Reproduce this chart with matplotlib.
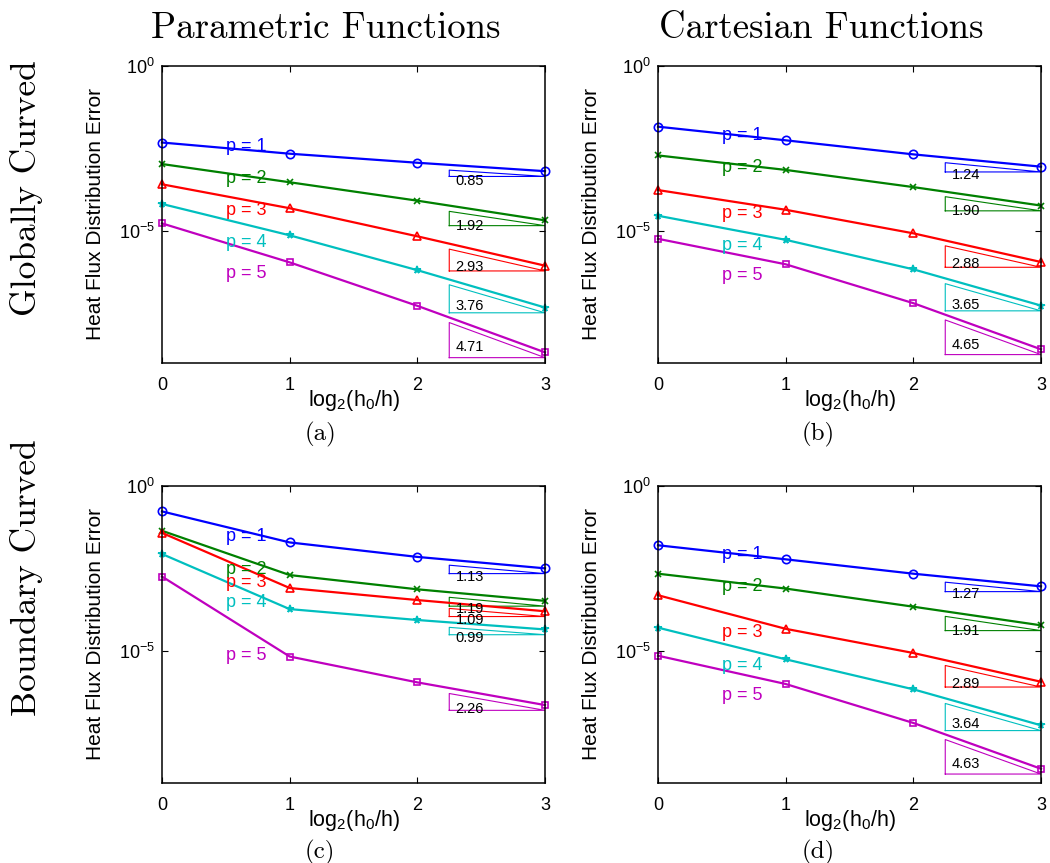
import numpy as np
import matplotlib
matplotlib.use("Agg")
from matplotlib import pyplot as plt
from matplotlib.ticker import NullLocator

plt.rcParams['font.family'] = ['Liberation Sans', 'DejaVu Sans']
plt.rcParams['mathtext.fontset'] = 'custom'
plt.rcParams['mathtext.rm'] = 'Liberation Sans'
plt.rcParams['mathtext.it'] = 'Liberation Sans:italic'

W, H = 1050, 863

x = [0, 1, 2, 3]
orders = [1, 2, 3, 4, 5]

# errors, one list per order p
err_a = [
    [4.8e-3, 2.2e-3, 1.17e-3, 6.5e-4],
    [1.07e-3, 3.0e-4, 8.3e-5, 2.1e-5],
    [2.6e-4, 4.9e-5, 6.9e-6, 8.9e-7],
    [6.6e-5, 7.4e-6, 6.5e-7, 4.8e-8],
    [1.7e-5, 1.12e-6, 5.4e-8, 2.1e-9],
]
err_b = [
    [1.45e-2, 5.6e-3, 2.1e-3, 8.9e-4],
    [1.95e-3, 7.1e-4, 2.14e-4, 5.9e-5],
    [1.74e-4, 4.4e-5, 8.5e-6, 1.15e-6],
    [2.9e-5, 5.4e-6, 6.9e-7, 5.5e-8],
    [5.8e-6, 9.8e-7, 6.5e-8, 2.6e-9],
]
err_c = [
    [1.7e-1, 1.95e-2, 7.1e-3, 3.2e-3],
    [4.4e-2, 2.0e-3, 7.4e-4, 3.3e-4],
    [3.8e-2, 8.1e-4, 3.5e-4, 1.6e-4],
    [8.7e-3, 1.86e-4, 8.7e-5, 4.5e-5],
    [1.8e-3, 6.8e-6, 1.12e-6, 2.3e-7],
]
err_d = [
    [1.6e-2, 6.0e-3, 2.2e-3, 9.1e-4],
    [2.2e-3, 7.8e-4, 2.2e-4, 6.0e-5],
    [4.9e-4, 4.7e-5, 8.7e-6, 1.17e-6],
    [5.1e-5, 5.6e-6, 6.9e-7, 5.6e-8],
    [7.2e-6, 1.0e-6, 6.6e-8, 2.7e-9],
]

rates_a = [0.85, 1.92, 2.93, 3.76, 4.71]
rates_b = [1.24, 1.90, 2.88, 3.65, 4.65]
rates_c = [1.13, 1.19, 1.09, 0.99, 2.26]
rates_d = [1.27, 1.91, 2.89, 3.64, 4.63]

# where the "p = k" labels sit (log10 of y)
lab_a = [-2.44, -3.40, -4.38, -5.34, -6.28]
lab_b = [-2.12, -3.07, -4.46, -5.45, -6.34]
lab_c = [-1.54, -2.52, -2.93, -3.54, -5.15]
lab_d = [-2.09, -3.05, -4.43, -5.43, -6.34]

colors = [(0, 0, 1), (0, 0.5, 0), (1, 0, 0), (0, 0.75, 0.75), (0.75, 0, 0.75)]
markers = ['o', 'x', '^', '*', 's']
msizes = [6, 4.5, 6, 5.5, 4.5]

fig = plt.figure(figsize=(W / 100, H / 100), dpi=100)


def add_ax(left, top, right, bottom):
    return fig.add_axes([left / W, 1 - bottom / H, (right - left) / W, (bottom - top) / H])


def draw(ax, errs, rates, labs):
    for i in range(5):
        c = colors[i]
        ax.plot(x, errs[i], color=c, lw=1.6, marker=markers[i], ms=msizes[i],
                mfc='none' if markers[i] in 'o^s' else c, mec=c, mew=1.2, clip_on=False)
        ax.text(0.5, 10 ** labs[i], f"p = {orders[i]}", color=c, fontsize=13,
                ha='left', va='center')
        # slope triangle
        bot = errs[i][-1] * 10 ** -0.16
        top = bot * 2 ** (0.75 * rates[i])
        ax.plot([2.25, 2.25, 3, 2.25], [bot, top, bot, bot], color=c, lw=0.8)
        ax.text(2.3, np.sqrt(top * bot) * 10 ** -0.22, f"{rates[i]:.2f}",
                fontsize=10.5, ha='left', va='center')
    ax.set_yscale('log')
    ax.set_xlim(0, 3)
    ax.set_ylim(1e-9, 1)
    ax.set_xticks([0, 1, 2, 3])
    ax.set_yticks([1e-5, 1])
    ax.yaxis.set_minor_locator(NullLocator())
    ax.tick_params(direction='in', top=True, right=True, labelsize=13, length=4, width=0.8)
    ax.tick_params(axis='x', pad=10)
    ax.tick_params(axis='y', pad=5)
    for s in ax.spines.values():
        s.set_linewidth(1.1)
    ax.set_ylabel("Heat Flux Distribution Error", fontsize=15)
    ax.yaxis.set_label_coords(-0.149, 0.5)
    ax.set_xlabel(r"log$_2$(h$_0$/h)", fontsize=15.5)
    ax.xaxis.set_label_coords(0.5, -0.125)
    ax.xaxis.label.set_va('center')


ax_a = add_ax(162, 66, 545, 363)
ax_b = add_ax(658, 66, 1041, 363)
ax_c = add_ax(162, 486, 545, 783)
ax_d = add_ax(658, 486, 1041, 783)

draw(ax_a, err_a, rates_a, lab_a)
draw(ax_b, err_b, rates_b, lab_b)
draw(ax_c, err_c, rates_c, lab_c)
draw(ax_d, err_d, rates_d, lab_d)

serif = 'cmr10'
fig.text(326 / W, 1 - 38 / H, "Parametric Functions", family=serif, fontsize=26.5,
         ha='center', va='baseline')
fig.text(821 / W, 1 - 38 / H, "Cartesian Functions", family=serif, fontsize=26.5,
         ha='center', va='baseline')
fig.text(27 / W, 1 - 188 / H, "Globally Curved", family=serif, fontsize=25.5,
         rotation=90, ha='center', va='center')
fig.text(27 / W, 1 - 578 / H, "Boundary Curved", family=serif, fontsize=25.5,
         rotation=90, ha='center', va='center')
for lab, px, py in [("(a)", 320, 434), ("(b)", 818, 434), ("(c)", 320, 852), ("(d)", 818, 852)]:
    fig.text(px / W, 1 - py / H, lab, family=serif, fontsize=18, ha='center', va='center')

fig.savefig("out.png", dpi=100)
